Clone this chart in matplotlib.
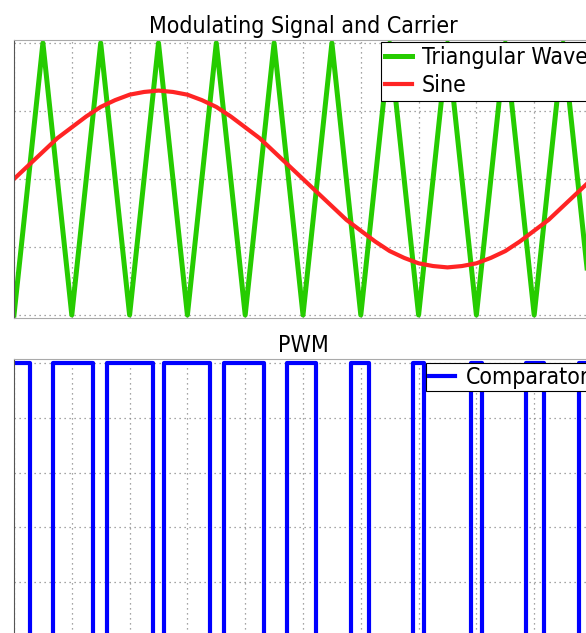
import numpy as np
import matplotlib
matplotlib.use("Agg")
import matplotlib.pyplot as plt

# --- data ----------------------------------------------------------------
# carrier (triangle) vertices
tri_t = [0.00, 0.05, 0.10, 0.15, 0.20, 0.25, 0.30, 0.35, 0.40, 0.45, 0.50,
         0.55, 0.60, 0.65, 0.70, 0.75, 0.80, 0.85, 0.90, 0.95, 1.00]
tri_v = [-1, 1, -1, 1, -1, 1, -1, 1, -1, 1, -1,
         1, -1, 1, -1, 1, -1, 1, -1, 1, -1]

# modulating sine, sampled every 0.025
sine_t = [i * 0.025 for i in range(41)]
sine_v = [0.00, 0.10, 0.20, 0.30, 0.38, 0.46, 0.53, 0.58, 0.62, 0.64, 0.65,
          0.64, 0.62, 0.58, 0.53, 0.46, 0.38, 0.30, 0.20, 0.10, 0.00,
          -0.10, -0.20, -0.30, -0.38, -0.46, -0.53, -0.58, -0.62, -0.64, -0.65,
          -0.64, -0.62, -0.58, -0.53, -0.46, -0.38, -0.30, -0.20, -0.10, 0.00]

# comparator output: switching instants and level after each one
pwm_t = [0.0, 0.0278, 0.0682, 0.1373, 0.1612, 0.2412, 0.2588, 0.3388, 0.3626,
         0.4318, 0.4722, 0.5227, 0.5831, 0.6143, 0.6901, 0.7093, 0.7907,
         0.8099, 0.8857, 0.9169, 0.9773, 1.0]
pwm_v = [1, 0, 1, 0, 1, 0, 1, 0, 1, 0, 1, 0, 1, 0, 1, 0, 1, 0, 1, 0, 1, 1]

# --- style -----------------------------------------------------------------
font = dict(family="DejaVu Sans", stretch="condensed")
fs = 16.6
W, H = 586, 633
fig = plt.figure(figsize=(W / 100, H / 100), dpi=100)

def px_axes(left, top, right, bottom):
    return fig.add_axes([left / W, 1 - bottom / H, (right - left) / W, (bottom - top) / H])

def style(ax):
    ax.grid(True, color="#888888", linestyle=(0, (1, 3)), linewidth=0.9)
    ax.tick_params(length=0, labelleft=False, labelbottom=False)
    for s in ["top", "right", "bottom"]:
        ax.spines[s].set_color("#aaaaaa")
    ax.spines["left"].set_color("#555555")
    ax.set_xlim(0, 1)
    ax.set_xticks(np.arange(0, 1.01, 0.1))

# top panel
ax1 = px_axes(14, 40, 592, 318)
style(ax1)
ax1.plot(tri_t, tri_v, color="#26cc00", lw=3.6, label="Triangular Wave")
ax1.plot(sine_t, sine_v, color="#ff2424", lw=3.0, label="Sine")
ax1.set_ylim(-1.022, 1.022)
ax1.set_yticks([-1, -0.5, 0, 0.5, 1])
ax1.set_title("Modulating Signal and Carrier", fontsize=fs, pad=5, **font)
leg = ax1.legend(loc="upper right", bbox_to_anchor=(1.0, 0.992), prop=dict(size=fs, **font),
                 fancybox=False, framealpha=1, edgecolor="black", borderpad=0.17,
                 handlelength=1.15, handletextpad=0.45, labelspacing=0.22, borderaxespad=0)
leg.get_frame().set_linewidth(0.8)

# bottom panel
ax2 = px_axes(14, 359, 592, 641)
style(ax2)
ax2.plot(pwm_t, pwm_v, color="#0000ff", lw=3.0, drawstyle="steps-post", label="Comparator")
ax2.set_ylim(-0.015, 1.015)
ax2.set_yticks([0, 0.2, 0.4, 0.6, 0.8, 1.0])
ax2.set_title("PWM", fontsize=fs, pad=5, **font)
leg2 = ax2.legend(loc="upper right", bbox_to_anchor=(1.0, 0.986), prop=dict(size=fs, **font),
                  fancybox=False, framealpha=1, edgecolor="black", borderpad=0.12,
                  handlelength=1.15, handletextpad=0.45, borderaxespad=0)
leg2.get_frame().set_linewidth(0.8)

fig.savefig("out.png", dpi=100)
